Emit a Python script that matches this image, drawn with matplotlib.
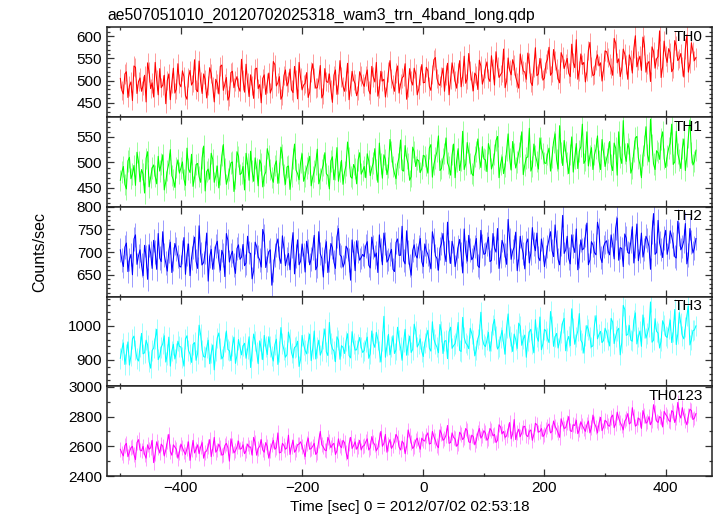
import numpy as np
import matplotlib
matplotlib.use("Agg")
import matplotlib.pyplot as plt
from matplotlib.ticker import MultipleLocator

plt.rcParams['font.family'] = ['Liberation Sans', 'DejaVu Sans']

title = "ae507051010_20120702025318_wam3_trn_4band_long.qdp"
xlabel = "Time [sec] 0 = 2012/07/02 02:53:18"
ylabel = "Counts/sec"
panel_names = ["TH0", "TH1", "TH2", "TH3", "TH0123"]
colors = ["#ff0000", "#00ff00", "#0000ff", "#00ffff", "#ff00ff"]

t_start = -500
t_step = 2.5

# estimated 1-sigma error of each rate point, per panel
errors = [22, 21, 26, 30, 50]

# samples at t = -500, -495, ..., 450
th0 = [505, 470, 520, 488, 455, 530, 498, 476, 512, 540, 482, 463, 501, 527, 490, 448, 515, 495, 472, 538,
       486, 509, 458, 523, 497, 480, 544, 471, 503, 489, 516, 452, 494, 532, 478, 507, 465, 521, 499, 485,
       548, 474, 496, 513, 460, 528, 491, 505, 469, 517, 483, 536, 495, 458, 511, 488, 526, 473, 502, 541,
       479, 494, 462, 519, 506, 484, 534, 470, 498, 515, 451, 524, 492, 508, 476, 539, 487, 501, 466, 520, 494,
       510, 478, 532, 497, 465, 521, 503, 486, 545, 491, 517, 472, 506, 538, 484, 499, 528, 468, 512, 495,
       530, 487, 514, 552, 493, 508, 476, 539, 502, 521, 483, 545, 510, 494, 561, 499, 517, 480, 533, 505,
       542, 498, 526, 565, 507, 519, 484, 551, 513, 535, 496, 560, 522, 503, 540, 489, 574, 515, 529, 506,
       548, 512, 570, 526, 495, 553, 538, 517, 582, 529, 503, 560, 541, 520, 586, 511, 547, 533, 499, 567,
       552, 528, 595, 540, 509, 571, 536, 558, 517, 601, 545, 523, 580, 538, 498, 566, 549, 612, 531, 556,
       572, 520, 590, 545, 561, 508, 603, 539, 566, 552]
# samples at t = -497.5, -492.5, ..., 447.5
th0_mid = [478, 515, 462, 497, 533, 471, 506, 489, 452, 519, 495, 541, 468, 484, 512, 500, 457, 528, 481, 493,
           522, 466, 507, 490, 547, 475, 498, 515, 461, 529, 486, 503, 470, 535, 492, 456, 518, 484, 509, 476,
           501, 537, 464, 489, 526, 482, 450, 513, 495, 472, 543, 488, 509, 466, 524, 497, 479, 532, 459, 506,
           490, 518, 474, 538, 483, 502, 461, 527, 496, 480, 512, 469, 545, 487, 499, 457, 521, 493, 478, 510,
           487, 524, 470, 508, 541, 482, 499, 463, 519, 505, 476, 533, 492, 510, 458, 527, 490, 515, 481, 536,
           496, 522, 478, 547, 505, 489, 528, 513, 468, 540, 499, 517, 486, 555, 504, 523, 477, 511, 546, 492,
           528, 505, 556, 490, 532, 513, 571, 499, 524, 547, 508, 483, 538, 519, 562, 496, 530, 511, 550, 501,
           539, 575, 518, 545, 504, 563, 527, 550, 509, 541, 592, 522, 536, 497, 568, 531, 514, 558, 540, 524,
           565, 537, 512, 584, 549, 526, 560, 503, 547, 572, 531, 555, 598, 519, 543, 576, 528, 554, 507, 589,
           541, 563, 527, 578, 550, 532, 571, 519, 585, 545]

th1 = [465, 492, 448, 510, 477, 455, 502, 486, 440, 521, 470, 495, 458, 483, 515, 462, 498, 474, 451, 505,
       489, 467, 528, 480, 453, 496, 472, 509, 444, 487, 518, 461, 493, 476, 535, 457, 484, 501, 468, 512,
       479, 446, 497, 522, 463, 488, 505, 452, 481, 514, 470, 494, 459, 530, 476, 491, 447, 508, 485, 466,
       517, 473, 499, 454, 483, 526, 469, 495, 478, 448, 511, 487, 463, 504, 481, 540, 472, 496, 458, 519, 484,
       470, 503, 489, 527, 461, 498, 515, 476, 545, 492, 468, 510, 485, 533, 497, 472, 521, 506, 480, 514,
       495, 528, 471, 509, 552, 488, 517, 499, 475, 536, 503, 484, 561, 497, 520, 478, 512, 546, 490, 507,
       482, 524, 498, 543, 470, 511, 493, 556, 485, 518, 501, 532, 476, 509, 567, 492, 514, 487, 528, 499,
       516, 483, 540, 505, 572, 494, 521, 478, 550, 509, 488, 531, 498, 560, 513, 486, 527, 503, 545, 492,
       519, 496, 538, 475, 511, 582, 502, 526, 489, 548, 509, 470, 533, 515, 585, 497, 523, 506, 560, 490,
       528, 575, 501, 517, 488, 546, 512, 583, 495, 524]
th1_mid = [481, 457, 503, 468, 494, 520, 462, 477, 508, 452, 489, 473, 512, 497, 446, 484, 525, 466, 490, 479,
           501, 455, 487, 516, 470, 498, 461, 532, 482, 467, 506, 474, 450, 513, 488, 469, 499, 443, 521, 476,
           492, 518, 465, 483, 509, 454, 497, 474, 527, 486, 461, 503, 480, 515, 457, 493, 472, 536, 478, 500,
           463, 489, 512, 471, 497, 458, 485, 519, 474, 503, 466, 529, 482, 457, 494, 510, 469, 488, 505, 477,
           492, 517, 474, 499, 486, 538, 469, 506, 490, 521, 478, 497, 544, 483, 509, 465, 530, 492, 503, 488,
           512, 479, 535, 496, 521, 484, 507, 548, 491, 515, 470, 527, 504, 486, 539, 498, 474, 521, 509, 531,
           505, 537, 487, 516, 551, 496, 478, 523, 508, 541, 489, 519, 560, 495, 511, 483, 536, 502, 548, 517,
           498, 528, 511, 556, 487, 520, 543, 499, 515, 481, 537, 522, 575, 504, 493, 529, 515, 552, 486, 520,
           507, 541, 484, 528, 560, 498, 517, 537, 479, 522, 551, 496, 514, 570, 501, 535, 486, 519, 546, 508,
           513, 538, 496, 561, 505, 527, 484, 550, 519, 502]

th2 = [705, 668, 720, 684, 650, 738, 692, 671, 715, 640, 698, 726, 662, 687, 745, 676, 703, 655, 719, 690,
       667, 732, 695, 648, 711, 680, 758, 672, 699, 636, 706, 688, 724, 660, 693, 741, 678, 702, 653, 716,
       689, 670, 735, 697, 658, 712, 683, 750, 666, 701, 627, 694, 729, 675, 709, 686, 661, 743, 691, 672,
       718, 656, 704, 685, 737, 669, 697, 645, 723, 681, 710, 664, 752, 690, 676, 707, 638, 699, 725, 682, 695,
       714, 671, 733, 689, 655, 706, 742, 678, 696, 662, 721, 693, 757, 674, 700, 649, 716, 687, 730, 668,
       703, 681, 745, 692, 660, 719, 698, 766, 675, 709, 686, 728, 654, 701, 737, 683, 712, 670, 748, 695,
       718, 679, 741, 700, 664, 726, 693, 772, 684, 711, 659, 735, 697, 720, 676, 754, 703, 688, 729, 668,
       712, 745, 690, 723, 672, 781, 705, 686, 738, 699, 661, 727, 708, 764, 683, 716, 694, 749, 677, 721,
       703, 738, 685, 775, 710, 668, 731, 697, 756, 714, 681, 742, 706, 727, 662, 785, 699, 720, 688, 748,
       711, 734, 690, 768, 705, 725, 674, 752, 698, 730]
th2_mid = [682, 711, 657, 695, 729, 673, 705, 648, 690, 716, 664, 700, 741, 679, 694, 658, 722, 685, 707, 669,
           700, 651, 718, 687, 733, 664, 697, 677, 742, 690, 662, 714, 681, 704, 646, 726, 693, 671, 708, 684,
           717, 676, 699, 641, 722, 690, 667, 737, 683, 705, 659, 716, 688, 736, 670, 697, 712, 652, 727, 680,
           693, 724, 672, 708, 661, 745, 686, 703, 655, 719, 678, 734, 694, 667, 713, 682, 727, 659, 701, 688,
           690, 723, 665, 711, 698, 738, 672, 719, 684, 706, 657, 729, 693, 681, 747, 670, 704, 693, 712, 679,
           718, 695, 663, 727, 686, 708, 741, 679, 701, 724, 668, 712, 696, 751, 680, 705, 689, 730, 666, 714,
           697, 733, 682, 709, 752, 690, 715, 673, 727, 702, 744, 685, 711, 663, 729, 698, 718, 742, 681, 707,
           690, 728, 703, 760, 684, 718, 697, 735, 674, 713, 751, 691, 705, 737, 672, 723, 699, 766, 688, 712,
           725, 694, 717, 753, 682, 708, 740, 699, 724, 676, 762, 703, 689, 735, 712, 744, 695, 770, 706, 731,
           695, 747, 718, 687, 740, 712, 763, 693, 722, 709]

th3 = [905, 950, 918, 885, 962, 930, 897, 978, 921, 944, 876, 935, 990, 912, 948, 894, 967, 926, 903, 955,
       938, 882, 971, 917, 946, 899, 1002, 929, 908, 958, 920, 871, 965, 934, 911, 985, 927, 942, 890, 960,
       915, 949, 932, 878, 976, 923, 956, 901, 939, 968, 912, 945, 887, 995, 930, 916, 961, 906, 940, 881,
       972, 928, 951, 898, 985, 936, 914, 963, 924, 1010, 933, 895, 958, 942, 919, 977, 906, 948, 930, 966, 922,
       952, 905, 985, 937, 960, 894, 1028, 942, 915, 971, 930, 958, 899, 990, 945, 922, 1005, 938, 962, 910,
       968, 935, 1012, 947, 921, 983, 955, 904, 996, 942, 970, 928, 1025, 950, 933, 978, 912, 962, 1040, 945,
       958, 926, 1003, 969, 940, 987, 917, 1035, 952, 976, 934, 999, 961, 908, 982, 948, 1018, 955, 930, 990,
       963, 1042, 940, 978, 955, 1010, 927, 969, 1050, 946, 985, 958, 920, 1001, 966, 942, 1030, 975, 951, 993,
       960, 1022, 948, 986, 915, 1060, 972, 1001, 955, 1038, 968, 940, 995, 978, 1070, 958, 984, 935, 1015, 970,
       992, 951, 1048, 976, 1007, 962, 1030, 944, 986, 1000]
th3_mid = [931, 887, 953, 912, 970, 904, 939, 918, 958, 895, 928, 963, 901, 937, 971, 916, 882, 946, 921, 940,
           907, 962, 928, 893, 951, 919, 975, 910, 936, 889, 944, 926, 979, 903, 952, 931, 898, 967, 914, 937,
           941, 905, 968, 927, 955, 889, 934, 972, 916, 940, 897, 961, 925, 948, 908, 982, 921, 937, 955, 902,
           945, 918, 976, 934, 903, 958, 927, 991, 913, 949, 926, 968, 902, 937, 955, 913, 983, 929, 947, 938,
           928, 967, 918, 949, 981, 925, 956, 908, 975, 940, 919, 996, 936, 953, 914, 970, 931, 984, 947, 925,
           950, 987, 926, 961, 938, 1004, 919, 957, 982, 934, 948, 1010, 925, 966, 944, 993, 958, 930, 975, 962,
           939, 981, 955, 1019, 932, 966, 948, 995, 971, 925, 960, 1008, 943, 973, 955, 990, 921, 967, 1026, 948,
           985, 951, 1000, 968, 935, 979, 1022, 957, 942, 994, 967, 1036, 950, 972, 989, 938, 1003, 962, 984, 957,
           982, 941, 1011, 969, 993, 950, 1048, 975, 958, 1016, 947, 985, 1032, 964, 997, 952, 1021, 979, 955, 1003,
           966, 1017, 983, 945, 1039, 971, 996, 1058, 960, 988]

th0123 = [2580, 2535, 2620, 2560, 2600, 2510, 2645, 2570, 2545, 2610, 2590, 2490, 2630, 2555, 2600, 2575, 2680, 2540, 2595, 2520,
          2615, 2565, 2585, 2505, 2640, 2580, 2550, 2625, 2560, 2600, 2530, 2660, 2575, 2590, 2545, 2620, 2500, 2605, 2570, 2635,
          2585, 2550, 2615, 2595, 2660, 2540, 2600, 2575, 2625, 2520, 2610, 2580, 2690, 2560, 2605, 2590, 2545, 2640, 2575, 2615,
          2600, 2530, 2655, 2585, 2620, 2560, 2700, 2595, 2570, 2635, 2610, 2545, 2650, 2590, 2625, 2515, 2660, 2605, 2580, 2640, 2600,
          2630, 2575, 2665, 2610, 2590, 2700, 2620, 2560, 2645, 2605, 2680, 2595, 2635, 2550, 2710, 2625, 2600, 2655, 2580, 2640,
          2670, 2615, 2700, 2640, 2590, 2685, 2650, 2740, 2625, 2660, 2600, 2695, 2645, 2720, 2630, 2675, 2610, 2690, 2655, 2705,
          2640, 2720, 2670, 2625, 2745, 2685, 2660, 2710, 2650, 2780, 2690, 2665, 2730, 2675, 2700, 2640, 2755, 2695, 2720, 2680,
          2735, 2690, 2770, 2715, 2660, 2750, 2725, 2800, 2700, 2740, 2685, 2765, 2720, 2745, 2690, 2810, 2730, 2755, 2705, 2775,
          2740, 2795, 2725, 2830, 2760, 2710, 2785, 2750, 2860, 2735, 2790, 2720, 2805, 2765, 2745, 2880, 2770, 2800, 2730, 2815,
          2775, 2840, 2760, 2895, 2790, 2810, 2745, 2850, 2780, 2820]
th0123_mid = [2555, 2605, 2530, 2590, 2545, 2625, 2575, 2600, 2520, 2580, 2640, 2550, 2590, 2615, 2535, 2630, 2565, 2610, 2580, 2560,
              2590, 2545, 2630, 2575, 2555, 2610, 2595, 2520, 2570, 2645, 2585, 2560, 2615, 2540, 2605, 2590, 2650, 2555, 2595, 2580,
              2610, 2570, 2595, 2540, 2625, 2585, 2645, 2560, 2600, 2570, 2640, 2590, 2555, 2620, 2580, 2675, 2600, 2560, 2610, 2630,
              2565, 2620, 2580, 2600, 2545, 2640, 2610, 2575, 2660, 2590, 2620, 2570, 2605, 2640, 2560, 2615, 2585, 2630, 2600, 2575,
              2605, 2650, 2590, 2625, 2570, 2645, 2600, 2680, 2615, 2585, 2630, 2660, 2575, 2620, 2600, 2670, 2585, 2640, 2610, 2655,
              2635, 2690, 2620, 2665, 2605, 2710, 2640, 2675, 2620, 2690, 2650, 2615, 2680, 2660, 2705, 2625, 2665, 2640, 2720, 2670,
              2690, 2655, 2705, 2680, 2640, 2730, 2700, 2670, 2760, 2685, 2645, 2715, 2690, 2735, 2665, 2710, 2680, 2745, 2700, 2665,
              2715, 2750, 2700, 2735, 2690, 2785, 2720, 2760, 2705, 2745, 2775, 2710, 2740, 2700, 2770, 2725, 2755, 2690, 2795, 2730,
              2765, 2735, 2810, 2750, 2790, 2740, 2770, 2820, 2760, 2800, 2745, 2780, 2840, 2755, 2800, 2770, 2825, 2760, 2790, 2835,
              2800, 2765, 2830, 2790, 2815, 2860, 2775, 2805, 2840, 2790]

series = [(th0, th0_mid), (th1, th1_mid), (th2, th2_mid), (th3, th3_mid), (th0123, th0123_mid)]
ylims = [(418, 620), (413, 589), (602, 800), (823, 1086), (2400, 3004)]
ymajor = [50, 50, 50, 100, 200]
yminor = [10, 10, 10, 20, 100]
xlim = (-522, 476)

W, H = 717, 516
fig = plt.figure(figsize=(W / 100, H / 100), dpi=100)
left = 107 / W
right = 711.7 / W
top_px = 27.3
bot_px = 476.0
ph = (bot_px - top_px) / 5

for i, ((main, mid), name, col) in enumerate(zip(series, panel_names, colors)):
    ys = np.empty(len(main) + len(mid))
    ys[0::2] = main
    ys[1::2] = mid
    y0 = top_px + ph * (i + 1)
    ax = fig.add_axes([left, 1 - y0 / H, right - left, ph / H])
    t = t_start + t_step * np.arange(len(ys))
    ax.errorbar(t, ys, yerr=errors[i], fmt='none', ecolor=col, elinewidth=0.6, alpha=0.45)
    ax.plot(t, ys, color=col, lw=0.75)
    ax.set_xlim(*xlim)
    ax.set_ylim(*ylims[i])
    ax.xaxis.set_major_locator(MultipleLocator(200))
    ax.xaxis.set_minor_locator(MultipleLocator(100))
    ax.yaxis.set_major_locator(MultipleLocator(ymajor[i]))
    ax.yaxis.set_minor_locator(MultipleLocator(yminor[i]))
    ax.tick_params(which='both', direction='in', top=True, right=True, labelsize=11, width=0.9, color='#333333')
    ax.tick_params(which='major', length=5)
    ax.tick_params(which='minor', length=2.5)
    for s in ax.spines.values():
        s.set_linewidth(1.1)
        s.set_color('#222222')
    if i < 4:
        ax.tick_params(labelbottom=False)
    ax.text(0.985, 0.97, name, transform=ax.transAxes, ha='right', va='top', fontsize=11, color='black', zorder=5)

fig.text(left, 1 - 20 / H, title, ha='left', va='baseline', fontsize=11.3)
fig.text((left + right) / 2, 1 - 514 / H, xlabel, ha='center', va='bottom', fontsize=11)
fig.text(40 / W, 1 - (top_px + bot_px) / 2 / H, ylabel, ha='center', va='center', rotation=90, fontsize=11.5)

fig.savefig("out.png", dpi=100)
